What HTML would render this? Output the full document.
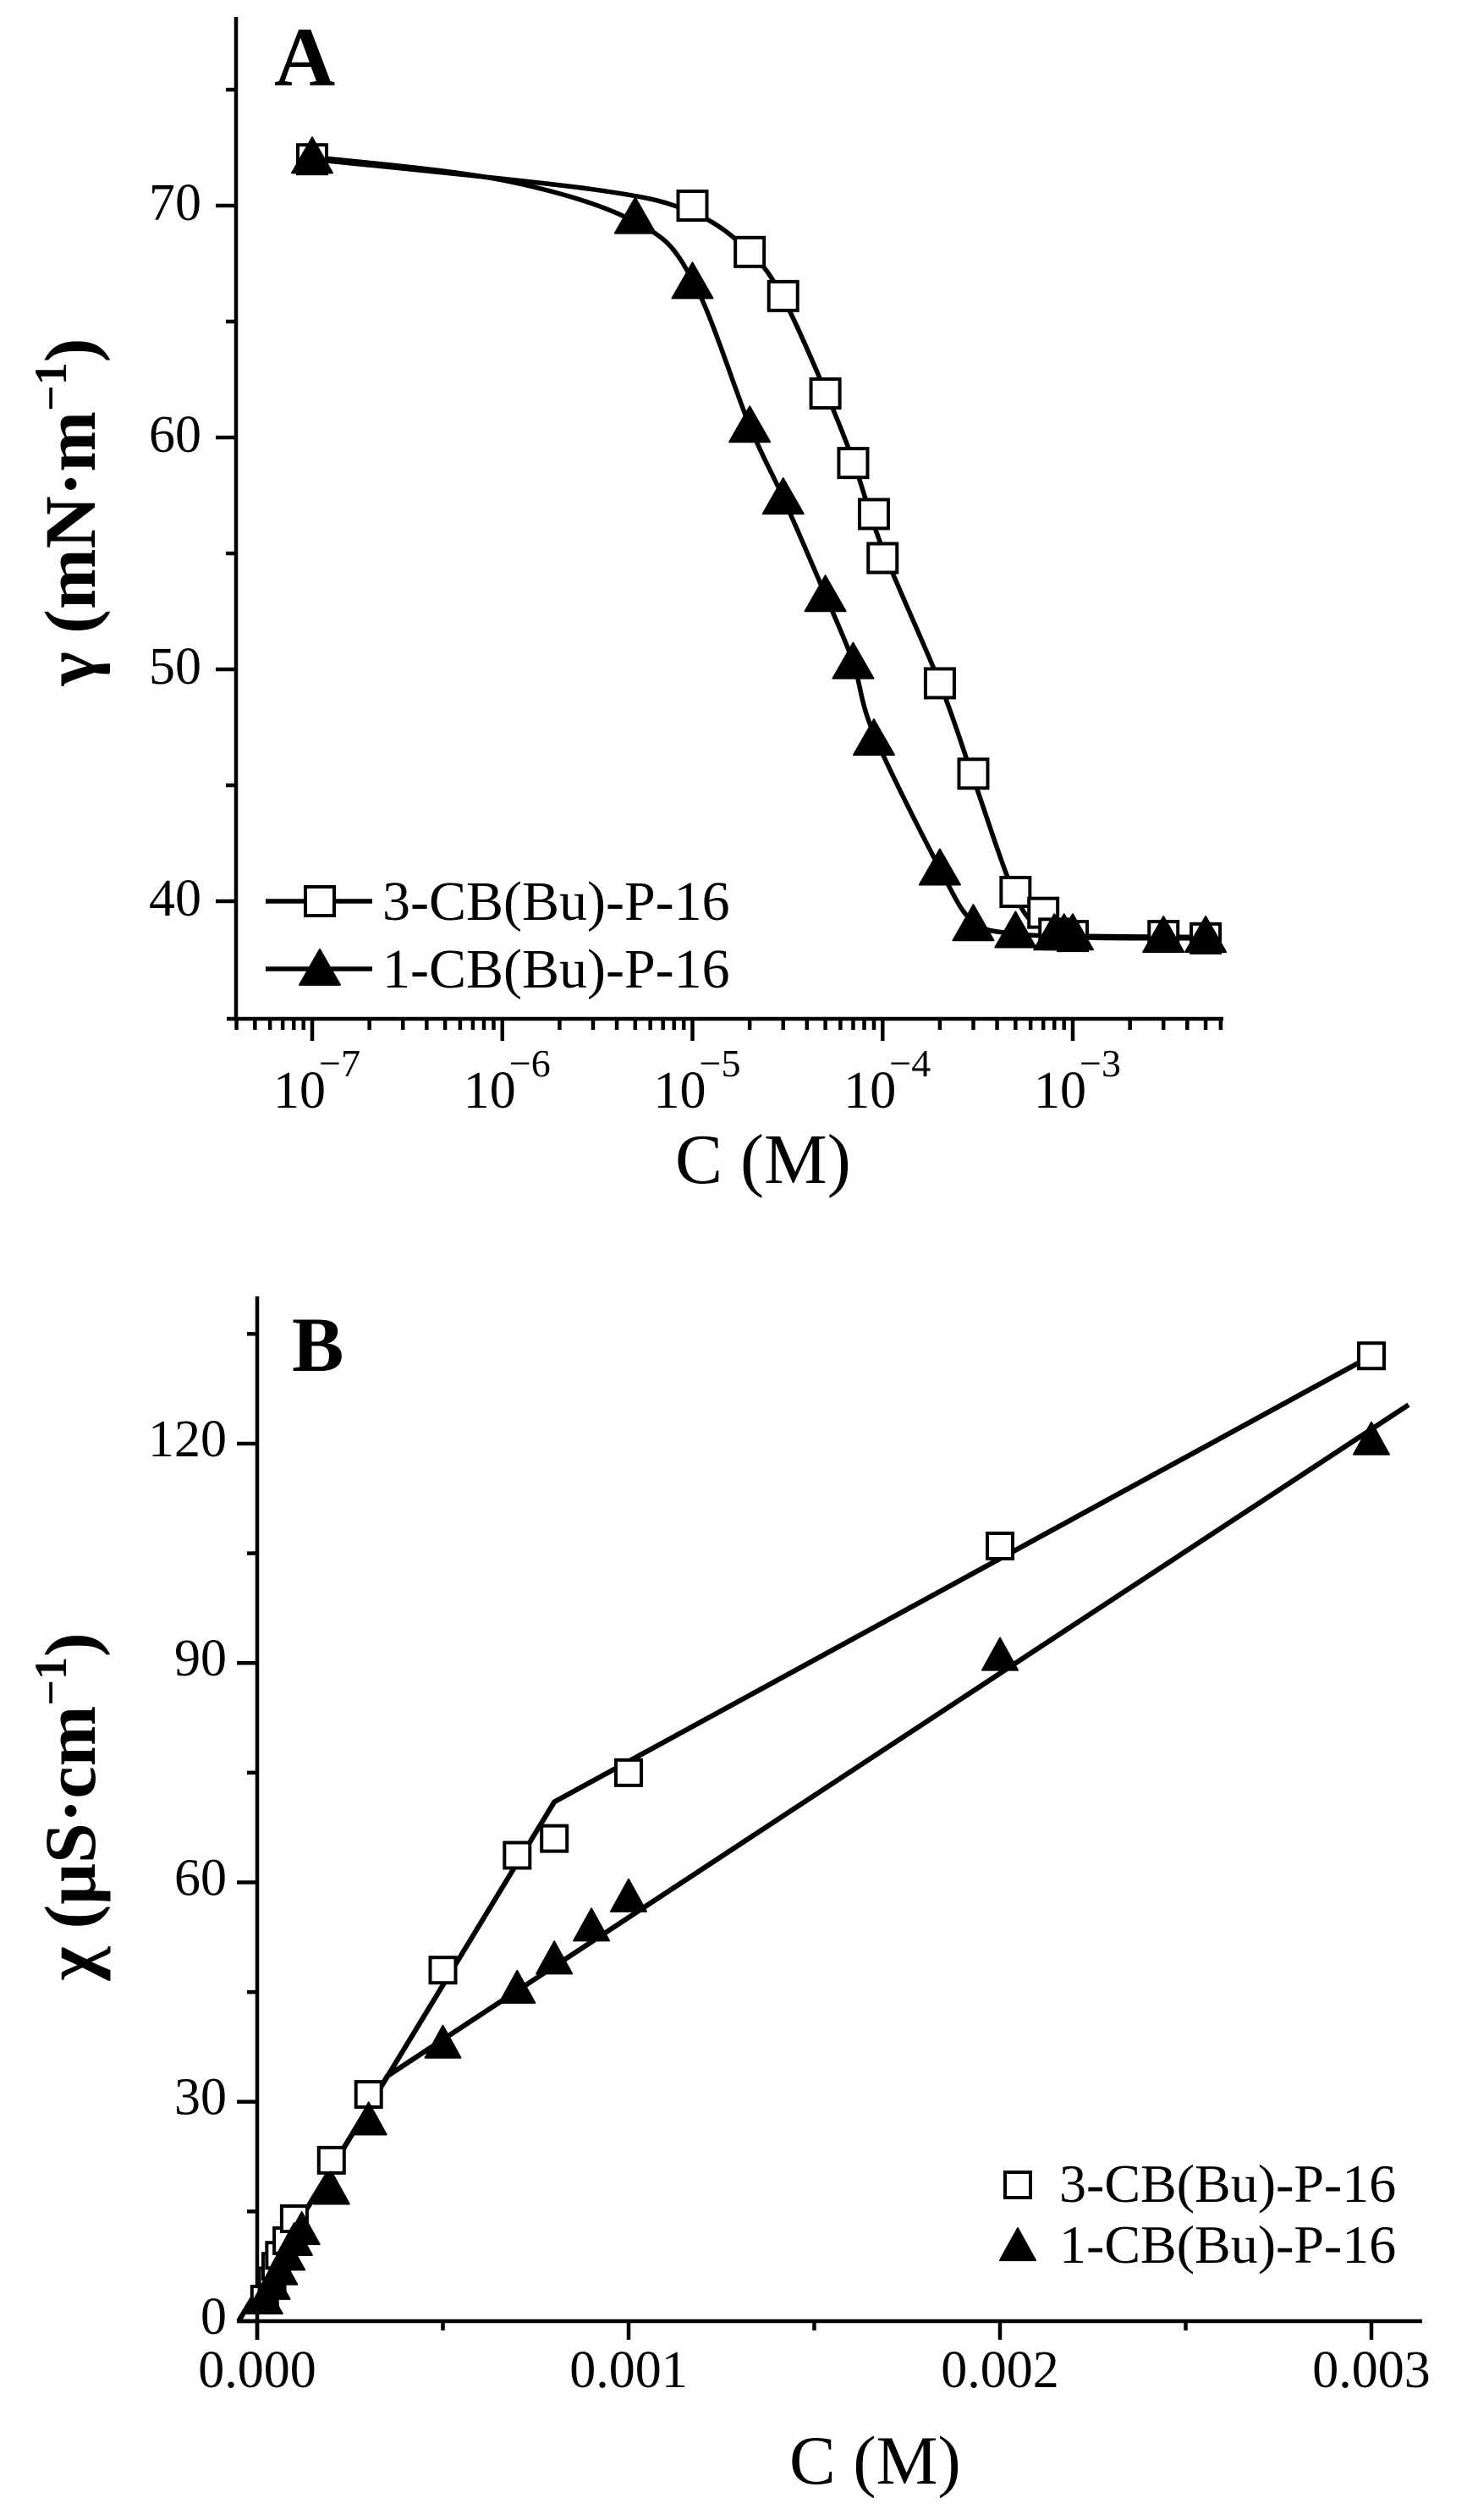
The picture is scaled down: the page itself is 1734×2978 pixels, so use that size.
<!DOCTYPE html>
<html><head><meta charset="utf-8"><style>
html,body{margin:0;padding:0;background:#fff;}
svg{display:block;}
text{font-family:"Liberation Serif",serif;fill:#000;}
</style></head><body>
<svg id="s" xmlns="http://www.w3.org/2000/svg" width="1734" height="2978" viewBox="0 0 1734 2978">
<rect width="1734" height="2978" fill="#fff"/>
<text x="324" y="101" font-size="100" font-weight="bold">A</text>
<text transform="translate(112,605) rotate(-90)" text-anchor="middle" font-size="86" font-weight="bold">γ (mN·m<tspan font-size="54" dy="-34">−1</tspan><tspan dy="34">)</tspan></text>
<text x="798" y="1398" font-size="84">C (M)</text>
<text x="452" y="1087" font-size="66">3-CB(Bu)-P-16</text>
<text x="452" y="1167" font-size="66">1-CB(Bu)-P-16</text>
<text x="345" y="1620" font-size="92" font-weight="bold">B</text>
<text transform="translate(112,2135) rotate(-90)" text-anchor="middle" font-size="86" font-weight="bold">χ (μS·cm<tspan font-size="54" dy="-34">−1</tspan><tspan dy="34">)</tspan></text>
<text x="933" y="2935" font-size="82">C (M)</text>
<text x="1252" y="2602" font-size="64">3-CB(Bu)-P-16</text>
<text x="1252" y="2674" font-size="64">1-CB(Bu)-P-16</text>
<g id="g"></g>
</svg>
<script>
(function(){
var NS="http://www.w3.org/2000/svg",g=document.getElementById('g');
function el(n,a,t){var e=document.createElementNS(NS,n);for(var k in a)e.setAttribute(k,a[k]);if(t!==undefined)e.textContent=t;g.appendChild(e);return e;}
function line(x1,y1,x2,y2,w){el('line',{x1:x1,y1:y1,x2:x2,y2:y2,stroke:'#000','stroke-width':w||4.5});}
var AX0=279,AY0=1204,D=224.75,X7=369;
function ax(c){return X7+(Math.log10(c)+7)*D;}
function ay(v){return 243+(70-v)*27.4;}
line(AX0,20,AX0,AY0+2);
line(268,AY0,1446,AY0);
for(var v=40;v<=75;v+=5){var y=ay(v);var maj=(v%10==0);line(AX0-(maj?24:12),y,AX0,y);
 if(maj)el('text',{x:238,y:y+17,'font-size':62,'text-anchor':'end'},String(v));}
for(var e=-8;e<=-3;e++){for(var k=1;k<=9;k++){var c=k*Math.pow(10,e);var x=ax(c);if(x<268||x>1446)continue;
 line(x,AY0,x,AY0+(k==1?26:13));
 if(k==1){el('text',{x:x-46,y:1309,'font-size':62},'10');
  el('text',{x:x+8,y:1272,'font-size':46},'−'+(-e));}}}
function cr(pts){var d='M'+pts[0][0]+','+pts[0][1];for(var i=0;i<pts.length-1;i++){var p0=pts[i-1]||pts[i],p1=pts[i],p2=pts[i+1],p3=pts[i+2]||p2;
 var c1=[p1[0]+(p2[0]-p0[0])/6,p1[1]+(p2[1]-p0[1])/6],c2=[p2[0]-(p3[0]-p1[0])/6,p2[1]-(p3[1]-p1[1])/6];
 d+=' C'+c1[0]+','+c1[1]+' '+c2[0]+','+c2[1]+' '+p2[0]+','+p2[1];}return d;}
var sq=[[1e-7,72],[1e-5,70],[2e-5,68],[3e-5,66.1],[5e-5,61.9],[7e-5,58.9],[9e-5,56.7],[1e-4,54.8],[2e-4,49.4],[3e-4,45.5],[5e-4,40.4],[7e-4,39.5],[8e-4,38.6],[1e-3,38.5],[3e-3,38.5],[5e-3,38.4]];
var tr=[[1e-7,72.1],[5e-6,69.5],[1e-5,66.7],[2e-5,60.5],[3e-5,57.4],[5e-5,53.2],[7e-5,50.3],[9e-5,47],[2e-4,41.4],[3e-4,39],[5e-4,38.7],[8e-4,38.6],[9e-4,38.6],[1e-3,38.6],[3e-3,38.5],[5e-3,38.5]];
var sqc=[[1e-7,72],[3e-6,70.7],[1e-5,69.7],[2e-5,68],[3e-5,66],[5e-5,62],[7e-5,59],[1e-4,55.2],[2e-4,49.4],[3e-4,45.3],[5e-4,40.2],[7e-4,38.8],[1e-3,38.45],[5e-3,38.4]];
var trc=[[1e-7,72.1],[1e-6,71.1],[5e-6,69.3],[1e-5,66.8],[2e-5,60.5],[3e-5,57.4],[5e-5,53.2],[7e-5,50.3],[9e-5,47.2],[2e-4,41.4],[3e-4,39.1],[5e-4,38.6],[1e-3,38.5],[5e-3,38.45]];
function mapA(a){return a.map(function(p){return [ax(p[0]),ay(p[1])];});}
el('path',{d:cr(mapA(sqc)),fill:'none',stroke:'#000','stroke-width':5.5});
el('path',{d:cr(mapA(trc)),fill:'none',stroke:'#000','stroke-width':5.5});
function sqm(x,y,s){el('rect',{x:x-s/2,y:y-s/2,width:s,height:s,fill:'#fff',stroke:'#000','stroke-width':4});}
function trm(x,y,w,h){el('polygon',{points:(x-w/2)+','+(y+h*0.45)+' '+(x+w/2)+','+(y+h*0.45)+' '+x+','+(y-h*0.55),fill:'#000',stroke:'#000','stroke-width':2,'stroke-linejoin':'round'});}
sq.forEach(function(p){sqm(ax(p[0]),ay(p[1]),34);});
tr.forEach(function(p){trm(ax(p[0]),ay(p[1]),48,42);});
line(314,1065,440,1065,5.5);sqm(378,1065,34);
line(314,1145,440,1145,5.5);trm(378,1145,48,42);
var BX0=304,BY0=2743;
function bx(c){return BX0+c*439000;}
function by(v){return BY0-v*8.642;}
line(BX0,1532,BX0,2765);
line(283,BY0,1681,BY0);
for(var v=0;v<=135;v+=15){var y=by(v),maj=(v%30==0);line(BX0-(maj?24:12),y,BX0,y);
 if(maj)el('text',{x:268,y:y+15,'font-size':62,'text-anchor':'end'},String(v));}
for(var i=0;i<=6;i++){var c=i*0.0005,x=bx(c),maj=(i%2==0);line(x,BY0,x,BY0+(maj?22:11));
 if(maj)el('text',{x:x,y:2821,'font-size':62,'text-anchor':'middle'},c.toFixed(3));}
el('polyline',{points:[[bx(-0.00005),by(0)],[bx(0.0008),by(71)],[bx(0.003),by(132)]].join(' '),fill:'none',stroke:'#000','stroke-width':6});
el('polyline',{points:[[bx(-0.00005),by(0)],[bx(0.00035),by(33.5)],[bx(0.0031),by(125.3)]].join(' '),fill:'none',stroke:'#000','stroke-width':6});
var bs=[[2e-5,3],[4e-5,5.5],[5e-5,7.5],[6e-5,9],[8e-5,11],[1e-4,14],[2e-4,22],[3e-4,31],[5e-4,48],[7e-4,63.7],[8e-4,66],[1e-3,75],[2e-3,106],[3e-3,132]];
var bt=[[2e-5,3],[4e-5,5],[6e-5,7],[8e-5,9],[1e-4,11],[1.2e-4,12.5],[2e-4,18],[3e-4,27.5],[5e-4,38],[7e-4,45.5],[8e-4,49.5],[9e-4,54],[1e-3,58],[2e-3,91],[3e-3,120.5]];
bs.forEach(function(p){sqm(bx(p[0]),by(p[1]),30);});
bt.forEach(function(p){trm(bx(p[0]),by(p[1]),42,38);});
sqm(1203,2582,30);
trm(1203,2654,42,38);
})();
</script>
</body></html>
